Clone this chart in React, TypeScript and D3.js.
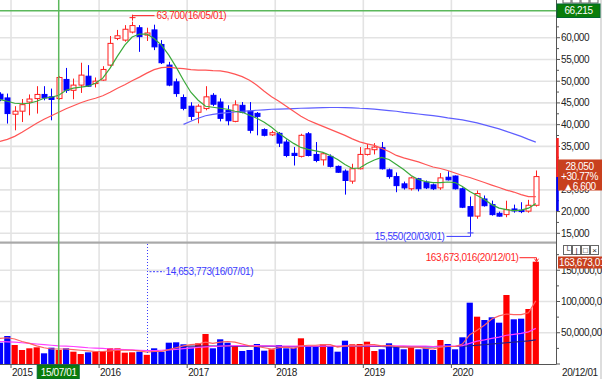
import React from "react";
import * as d3 from "d3";

const W = 602;
const H = 379;

// monthly categories Nov 2014 .. Dec 2020
const months: Date[] = d3.utcMonths(new Date(Date.UTC(2014, 10, 1)), new Date(Date.UTC(2021, 0, 1)));

const openP = [47000, 46150, 42400, 43100, 45200, 46000, 46950, 46400, 46000, 50400, 47900, 49100, 51150, 49450, 50250,
  53700, 59850, 59450, 61300, 62300, 60600, 61800, 58450, 53700, 49850, 46250, 44250, 42850,
  43700, 46750, 45200, 43300, 40750, 44450, 43100, 42600, 38850, 37650, 38000, 36000, 33400, 32700, 37900,
  33150, 31900, 32700, 30400, 29300, 27000, 29850, 33150, 34230, 34700, 29600, 28050, 26380, 25250, 27550,
  26750, 26150, 25450, 27900, 28180, 25250, 21150, 18950, 22900, 21600, 19600, 19300, 20600, 20330, 20100, 21450];
const closeP = [45850, 42550, 43100, 44600, 45900, 46950, 46150, 45800, 50850, 47900, 49100, 51400, 48850, 50000, 52700,
  58700, 60450, 61950, 62800, 60250, 61100, 57900, 54250, 49100, 47150, 43750, 41900, 44250,
  46400, 44700, 41450, 40900, 44550, 42850, 38700, 41900, 37550, 38150, 35750, 32900, 32900, 37550, 32900,
  31750, 33300, 30400, 29050, 27150, 29850, 33150, 34450, 34830, 29850, 28050, 25970, 25450, 27750, 25250,
  25450, 25250, 27750, 27300, 25250, 21000, 18950, 24150, 21350, 19300, 18950, 20450, 20150, 20000, 21450, 28050];
const highP = [47450, 47150, 44250, 45900, 46950, 48850, 48850, 48300, 51150, 53050, 50600, 54250, 53700, 50850, 53450,
  60400, 61800, 62900, 63700, 62900, 62300, 63000, 59450, 54450, 50600, 46950, 45150, 44700,
  48850, 47250, 46050, 44460, 45600, 45200, 45200, 42900, 39150, 38600, 38300, 36600, 34850, 37900, 38300,
  36000, 33700, 33150, 30600, 29700, 31000, 34850, 35600, 35750, 36000, 29900, 29000, 26900, 28050, 27750,
  27150, 26450, 28850, 29290, 28300, 25550, 23450, 24850, 23700, 22525, 19985, 22500, 21600, 22150, 22700, 29450];
const lowP = [45400, 40250, 38700, 40600, 42150, 42550, 45600, 41000, 45750, 47300, 45850, 47300, 48700, 48550, 50100,
  53450, 59450, 59100, 61000, 56750, 59250, 57150, 53950, 48850, 46400, 43300, 41000, 40300,
  43300, 44250, 40750, 39850, 40550, 42600, 38000, 37550, 37300, 37400, 34850, 32500, 30600, 32450, 32700,
  31350, 30600, 30150, 28900, 23900, 26400, 29700, 32900, 33150, 29680, 27550, 24450, 25050, 24850, 24650,
  25180, 24950, 25000, 27150, 25070, 20800, 15550, 18350, 21140, 19060, 18830, 18700, 19750, 19640, 19750, 21150];

const maShort = [45780, 45380, 44920, 44810, 44920, 45380, 46080, 46310, 46770, 47920, 48390, 48620, 48850, 49540, 50700,
  53000, 55780, 58310, 60160, 60850, 60850, 59820, 58310, 56010, 53240, 50230, 47460, 45620,
  44230, 44000, 43770, 43540, 43080, 42840, 42150, 41460, 40540, 39380, 38000, 36840, 35690, 34760, 34300,
  33950, 33610, 32920, 31990, 30840, 29910, 30030, 31070, 31880, 32450, 31990, 30840, 29680, 28300, 27370,
  26910, 26680, 26680, 26800, 26680, 25760, 24600, 23680, 22760, 21600, 20790, 20450, 20220, 20330, 20790, 21830];
const maMid = [36150, 36610, 37300, 38230, 39270, 40300, 41230, 42040, 42840, 43650, 44350, 45040, 45620, 46080, 46650,
  47460, 48390, 49190, 50120, 50930, 51850, 52660, 53120, 53240, 53000, 52890, 52660, 52540,
  52540, 52430, 52360, 52080, 51620, 51040, 50230, 49080, 47690, 46420, 45380, 44230, 43080, 41920, 41000,
  40300, 39610, 38920, 38230, 37530, 36730, 36030, 35570, 35220, 34530, 33840, 32920, 32340, 31880, 31420,
  30840, 30260, 29910, 29450, 28880, 28300, 27840, 27260, 26680, 26100, 25530, 24950, 24490, 23910, 23450, 23450];
const maLong: (number | null)[] = [
  null, null, null, null, null, null, null, null, null, null, null, null, null, null, null,
  null, null, null, null, null, null, null, null, null, null,
  40070, 40770, 41460, 42040, 42380, 42610, 42780, 42910, 43080, 43190, 43310, 43420, 43540, 43580, 43650,
  43700, 43770, 43810, 43880, 43930, 43950, 43950, 43930, 43880, 43770, 43700, 43580, 43420, 43240, 43080,
  42840, 42660, 42450, 42270, 42080, 41850, 41570, 41340, 41110, 40770, 40420, 39960, 39500, 39030, 38460,
  37880, 37300, 36610, 35990];

const volume = [34100000, 44800000, 30400000, 22400000, 25100000, 26700000, 17100000, 26100000, 22400000, 25100000,
  19700000, 16000000, 18700000, 19700000, 20800000, 25100000, 25100000, 18100000, 18700000, 19700000,
  14653773, 25100000, 19700000, 34100000, 34700000, 31500000, 26700000, 33100000, 48000000, 25100000,
  39500000, 34100000, 28800000, 20800000, 22400000, 32000000, 21300000, 23500000, 30400000, 25100000,
  26100000, 41100000, 28800000, 28800000, 31500000, 27700000, 19700000, 37300000, 31500000, 32000000,
  35700000, 20800000, 23500000, 33100000, 28800000, 23500000, 26700000, 23500000, 25100000, 22400000,
  38400000, 32000000, 23500000, 42700000, 98100000, 75700000, 70400000, 74700000, 66100000, 110400000,
  71500000, 72500000, 88000000, 163673016];

// volume moving averages (millions)
const volMaShort = [41, 42, 40, 36, 33, 29, 26, 24, 24, 24, 23, 22, 21, 20, 20, 21, 22, 22, 22, 21, 19, 20, 20, 23, 26,
  29, 31, 32, 35, 33, 35, 36, 35, 32, 29, 28, 26, 24, 26, 27, 25, 29, 30, 30, 31, 31, 27, 29, 29, 29, 31, 31, 29, 30,
  28, 27, 27, 27, 25, 24, 27, 28, 28, 32, 47, 54, 62, 72, 77, 80, 79, 79, 82, 101];
const volMaMid = [36, 35.5, 35, 34, 33, 32, 31, 30, 29, 28.5, 28, 27, 26, 25.5, 25, 24, 23.5, 23, 22.5, 22, 21.5, 21.5,
  22, 22.5, 23.5, 24.5, 25.5, 26.5, 27.5, 28, 28.5, 29, 29.5, 29.5, 29.5, 29.5, 29, 29, 28.5, 28.5, 28.5, 28.5, 28.5,
  28.5, 28.5, 28.5, 28.5, 29, 29, 29, 29, 29, 29, 29, 29, 29, 28.5, 28.5, 28.5, 28, 28.5, 28.5, 28.5, 29.5, 33, 36.5,
  38.5, 41, 43, 46, 47.5, 49, 51.5, 57];
const volMaLong: (number | null)[] = [
  null, null, null, null, null, null, null, null, null, null, null, null, null, null, null,
  null, null, null, null, null, null, null, null, null, null,
  28.5, 28.5, 28.5, 28.5, 28.5, 28.5, 28.5, 28.5, 28.5, 28.5, 28.5, 28.5, 28.5,
  28, 28, 28, 28, 28, 28, 28, 28, 28, 28, 28, 28, 28, 28, 28,
  27.5, 27.5, 27.5, 27.5, 27.5, 27.5, 27.5, 28, 28, 28, 28.5,
  29, 30, 31, 32, 33, 34, 35, 36, 37, 38.5];

const priceTicks = [60000, 55000, 50000, 45000, 40000, 35000, 30000, 25000, 20000, 15000];
const priceGrid = [65000, 60000, 55000, 50000, 45000, 40000, 35000, 30000, 25000, 20000, 15000];
const volTicks = [50000000, 100000000, 150000000];
const crossIndex = 6 + 2; // 15/07/01
const crossValue = 66215;

const RED = "#ff1f1f";
const BLUE = "#0000ff";
const FONT = "'Liberation Sans', Arial, sans-serif";

export default function App() {
  const n = months.length;
  const x = d3.scaleLinear().domain([0, n - 1]).range([0, 535.8]);
  const yP = d3.scaleLinear().domain([15000, 65000]).range([233.3, 16]);
  const yV = d3.scaleLinear().domain([0, 150000000]).range([364, 270.25]);
  const fmt = d3.format(",");
  const dfmt = d3.utcFormat("%y/%m/%d");

  const px = (i: number) => Math.round(x(i)) + 0.5;

  const lineP = d3.line<number | null>()
    .defined((d) => d != null)
    .x((_, i) => x(i))
    .y((d) => yP(d as number));
  const lineV = d3.line<number | null>()
    .defined((d) => d != null)
    .x((_, i) => x(i))
    .y((d) => yV((d as number) * 1e6));

  const yearIdx = months.map((d, i) => (d.getUTCMonth() === 0 ? i : -1)).filter((i) => i >= 0);

  const hiI = d3.maxIndex(highP);
  const loI = d3.minIndex(lowP);
  const vMinI = d3.minIndex(volume);
  const vMaxI = d3.maxIndex(volume);
  const last = n - 1;
  const chg = closeP[last] - closeP[last - 1];
  const pct = (chg / closeP[last - 1]) * 100;

  const txt = { fontFamily: FONT, fontSize: 10, letterSpacing: -0.4 } as React.CSSProperties;

  const hiX = px(hiI);
  const hiY = yP(highP[hiI]) - 4;
  const loX = px(loI);
  const loY = yP(lowP[loI]) + 2;
  const vminX = px(vMinI);
  const vmaxX = px(vMaxI);
  const vmaxY = yV(volume[vMaxI]);

  return (
    <svg width={W} height={H} style={{ position: "absolute", left: 0, top: 0, background: "#fff" }}>
      <defs>
        <clipPath id="pc"><rect x={0} y={0} width={556} height={242} /></clipPath>
        <clipPath id="vc"><rect x={0} y={244} width={556} height={120} /></clipPath>
      </defs>
      <rect x={0} y={0} width={W} height={H} fill="#fff" />

      {/* grid */}
      {priceGrid.map((v) => (
        <line key={"pg" + v} x1={0} x2={556} y1={yP(v)} y2={yP(v)} stroke="#e3e3e3" strokeWidth={1.6} />
      ))}
      {volTicks.map((v) => (
        <line key={"vg" + v} x1={0} x2={556} y1={yV(v)} y2={yV(v)} stroke="#e3e3e3" strokeWidth={1.6} />
      ))}
      {yearIdx.map((i) => (
        <line key={"yg" + i} x1={x(i - 0.5)} x2={x(i - 0.5)} y1={0} y2={364} stroke="#e3e3e3" strokeWidth={1.6} />
      ))}

      {/* panel separator */}
      <rect x={0} y={241.5} width={556} height={2.2} fill="#a9a9a9" />

      {/* candles */}
      <g clipPath="url(#pc)">
        {months.map((d, i) => {
          const up = closeP[i] >= openP[i];
          const cx = px(i);
          const col = up ? RED : BLUE;
          const top = yP(Math.max(openP[i], closeP[i]));
          const bot = yP(Math.min(openP[i], closeP[i]));
          return (
            <g key={"c" + i}>
              <line x1={cx} x2={cx} y1={yP(highP[i])} y2={yP(lowP[i])} stroke={col} strokeWidth={1} />
              <rect x={cx - 2.5} y={top} width={5} height={Math.max(bot - top, 1)}
                fill={up ? "#fff" : BLUE} stroke={col} strokeWidth={1} />
            </g>
          );
        })}
        <path d={lineP(maLong) || ""} fill="none" stroke="#5f5fff" strokeWidth={1.2} />
        <path d={lineP(maMid) || ""} fill="none" stroke="#ff5555" strokeWidth={1.2} />
        <path d={lineP(maShort) || ""} fill="none" stroke="#3aaa3a" strokeWidth={1.2} />
      </g>

      {/* volume */}
      <g clipPath="url(#vc)">
        {months.map((d, i) => {
          const up = closeP[i] >= openP[i];
          return (
            <rect key={"v" + i} x={x(i) - 3.1} y={yV(volume[i])} width={6.2} height={364 - yV(volume[i])}
              fill={up ? "#ff0000" : BLUE} />
          );
        })}
        <path d={lineV(volMaLong) || ""} fill="none" stroke="#20208a" strokeWidth={1.2} />
        <path d={lineV(volMaMid) || ""} fill="none" stroke="#ff40ff" strokeWidth={1.2} />
        <path d={lineV(volMaShort) || ""} fill="none" stroke="#ff6060" strokeWidth={1.2} />
      </g>

      {/* crosshair */}
      <line x1={x(crossIndex)} x2={x(crossIndex)} y1={0} y2={364} stroke="#5cb85c" strokeWidth={1.5} />
      <line x1={0} x2={556} y1={yP(crossValue)} y2={yP(crossValue)} stroke="#5cb85c" strokeWidth={1.5} />

      {/* annotations */}
      <g stroke={RED} fill="none" strokeWidth={1}>
        <path d={`M${hiX - 3},${hiY} H${hiX + 3} M${hiX},${hiY - 3} V${hiY + 3}`} />
        <path d={`M${hiX},${hiY} V${hiY - 2} H${hiX + 22}`} />
      </g>
      <text x={hiX + 24} y={hiY - 2} dy="0.35em" fill={RED} style={txt}>
        {fmt(highP[hiI])}({dfmt(months[hiI])})
      </text>

      <g stroke="#3a3aff" fill="none" strokeWidth={1}>
        <path d={`M${loX - 3},${loY} H${loX + 3} M${loX},${loY - 3} V${loY + 3}`} />
        <path d={`M${loX},${loY} V${loY + 3.5} H${loX - 24}`} />
      </g>
      <text x={loX - 26} y={loY + 3.5} dy="0.35em" textAnchor="end" fill="#3a3aff" style={txt}>
        {fmt(lowP[loI])}({dfmt(months[loI])})
      </text>

      <line x1={vminX} x2={vminX} y1={244} y2={yV(volume[vMinI])} stroke="#3a3aff" strokeDasharray="1,2" />
      <line x1={vminX + 2} x2={vminX + 17} y1={271.7} y2={271.7} stroke="#3a3aff" strokeDasharray="2,1.5" />
      <text x={vminX + 18} y={271.7} dy="0.35em" fill="#3a3aff" style={txt}>
        {fmt(volume[vMinI])}({dfmt(months[vMinI])})
      </text>

      <path d={`M${vmaxX - 17},${vmaxY - 4} H${vmaxX} V${vmaxY - 1}`} stroke={RED} fill="none" />
      <path d={`M${vmaxX - 2},${vmaxY - 3} L${vmaxX},${vmaxY} L${vmaxX + 2},${vmaxY - 3}`} stroke={RED} fill="none" />
      <text x={vmaxX - 18} y={vmaxY - 4} dy="0.35em" textAnchor="end" fill={RED} style={txt}>
        {fmt(volume[vMaxI])}({dfmt(months[vMaxI])})
      </text>

      {/* axes */}
      <line x1={556.5} x2={556.5} y1={0} y2={364} stroke="#555" />
      <line x1={0} x2={556.5} y1={364.5} y2={364.5} stroke="#555" />
      <line x1={601} x2={601} y1={0} y2={379} stroke="#bbb" />

      {d3.range(15000, 66000, 2500).map((v) => (
        <line key={"pt" + v} x1={556} x2={v % 5000 === 0 ? 560 : 559} y1={yP(v)} y2={yP(v)} stroke="#555" />
      ))}
      {priceTicks.map((v) => (
        <text key={"pl" + v} x={561} y={yP(v)} dy="0.35em" fill="#222" style={txt}>{fmt(v)}</text>
      ))}
      {d3.range(0, 190000001, 25000000).map((v) => (
        <line key={"vt" + v} x1={556} x2={v % 50000000 === 0 ? 560 : 559} y1={yV(v)} y2={yV(v)} stroke="#555" />
      ))}
      {volTicks.map((v) => (
        <text key={"vl" + v} x={561} y={yV(v)} dy="0.35em" fill="#222" style={txt}>{fmt(v)}</text>
      ))}

      {yearIdx.map((i) => (
        <g key={"yl" + i}>
          <line x1={x(i - 0.5)} x2={x(i - 0.5)} y1={364} y2={368} stroke="#555" />
          <text x={x(i - 0.5) + 1} y={372.5} dy="0.35em" fill="#222" style={txt}>{months[i].getUTCFullYear()}</text>
        </g>
      ))}
      <text x={562} y={372.5} dy="0.35em" fill="#222" style={txt}>{dfmt(months[last])}</text>

      {/* crosshair labels */}
      <rect x={x(crossIndex) - 21.5} y={365} width={42} height={14} fill="#0a7d0a" stroke="#063" />
      <text x={x(crossIndex)} y={372} dy="0.35em" textAnchor="middle" fill="#fff" style={txt}>{dfmt(months[crossIndex])}</text>

      {/* price panel buttons (partially hidden) */}
      {[0, 1, 2, 3].map((k) => (
        <rect key={"pb" + k} x={563 + k * 9} y={-6} width={8} height={9} fill="#fff" stroke="#666" />
      ))}
      <rect x={557} y={4} width={43} height={13.5} fill="#0a7d0a" stroke="#063" />
      <text x={578.5} y={10.8} dy="0.35em" textAnchor="middle" fill="#fff" style={txt}>{fmt(crossValue)}</text>

      {/* last price markers */}
      <line x1={557.5} x2={557.5} y1={138} y2={177} stroke="#ff2020" strokeWidth={2.5} />
      <line x1={557.5} x2={557.5} y1={177} y2={211} stroke={BLUE} strokeWidth={2.5} />
      <rect x={558} y={159.5} width={44} height={31} fill="#c8401e" />
      <text x={579.5} y={166} dy="0.35em" textAnchor="middle" fill="#fff" style={txt}>{fmt(closeP[last])}</text>
      <text x={579.5} y={176.2} dy="0.35em" textAnchor="middle" fill="#fff" style={txt}>+{pct.toFixed(2)}%</text>
      <text x={579.5} y={186.4} dy="0.35em" textAnchor="middle" fill="#fff" style={txt}>▲{fmt(chg)}</text>

      <rect x={558} y={256.5} width={44} height={12} fill="#c8401e" />
      <text x={559} y={262.5} dy="0.35em" fill="#fff" style={txt}>{fmt(volume[last])}</text>

      {/* volume panel buttons */}
      {["└", "|", "□", "×"].map((s, k) => (
        <g key={"vb" + k}>
          <rect x={563.5 + k * 9} y={245.5} width={8} height={9} fill="#fff" stroke="#666" />
          <text x={567.5 + k * 9} y={250} dy="0.35em" textAnchor="middle" fill="#222"
            style={{ fontFamily: FONT, fontSize: 8 }}>{s}</text>
        </g>
      ))}
    </svg>
  );
}
